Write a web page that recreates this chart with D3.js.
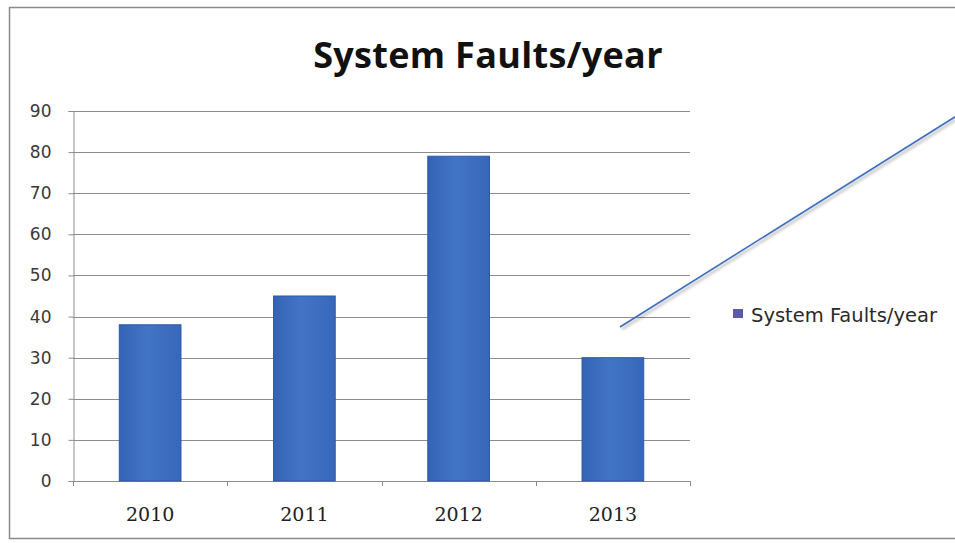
<!DOCTYPE html>
<html>
<head>
<meta charset="utf-8">
<script src="https://cdn.jsdelivr.net/npm/d3@7"></script>
<style>
  html, body { margin: 0; padding: 0; background: #fff; }
  svg { display: block; }
</style>
</head>
<body>
<svg id="chart" width="955" height="543"></svg>
<script>
// Yearly system fault counts
const years = ["2010", "2011", "2012", "2013"];
const faults = [38, 45, 79, 30];
const yTicks = [0, 10, 20, 30, 40, 50, 60, 70, 80, 90];
const chartTitle = "System Faults/year";
const seriesName = "System Faults/year";

const svg = d3.select("#chart");
const plot = { left: 73, right: 690, top: 111, bottom: 481 };

const defs = svg.append("defs");
const grad = defs.append("linearGradient").attr("id", "barFill")
  .attr("x1", "0").attr("x2", "1").attr("y1", "0").attr("y2", "0");
grad.append("stop").attr("offset", "0%").attr("stop-color", "#3463b5");
grad.append("stop").attr("offset", "45%").attr("stop-color", "#4275c6");
grad.append("stop").attr("offset", "100%").attr("stop-color", "#3767b8");

const shadow = defs.append("filter").attr("id", "lineShadow")
  .attr("x", "-10%").attr("y", "-10%").attr("width", "130%").attr("height", "130%");
shadow.append("feDropShadow").attr("dx", 2).attr("dy", 2).attr("stdDeviation", 1.5)
  .attr("flood-color", "#000").attr("flood-opacity", 0.35);

// outer chart frame
svg.append("rect").attr("x", 9.5).attr("y", 7.5).attr("width", 960).attr("height", 531)
  .attr("fill", "#fff").attr("stroke", "#8a8a8a").attr("stroke-width", 1.5);

const x = d3.scaleBand().domain(years).range([plot.left, plot.right])
  .paddingInner(0.6).paddingOuter(0.3);
const y = d3.scaleLinear().domain([0, 90]).range([plot.bottom, plot.top]);

// horizontal gridlines
svg.append("g").selectAll("line").data(yTicks.filter(d => d > 0)).join("line")
  .attr("x1", plot.left).attr("x2", plot.right)
  .attr("y1", d => Math.round(y(d)) + 0.5).attr("y2", d => Math.round(y(d)) + 0.5)
  .attr("stroke", "#8c8c8c").attr("stroke-width", 1);

// y axis
const yAxis = svg.append("g").attr("transform", `translate(${plot.left + 0.5},0)`)
  .call(d3.axisLeft(y).tickValues(yTicks).tickSize(5).tickPadding(17));
yAxis.select(".domain").attr("stroke", "#8c8c8c");
yAxis.selectAll(".tick line").attr("stroke", "#8c8c8c");
yAxis.selectAll("text").attr("fill", "#3a3a3a")
  .style("font-family", "'DejaVu Sans', sans-serif").style("font-size", "17px");

// x axis
const xAxis = svg.append("g").attr("transform", `translate(0,${plot.bottom + 0.5})`)
  .call(d3.axisBottom(x).tickSize(0).tickPadding(26));
xAxis.select(".domain").attr("stroke", "#8c8c8c").attr("d", `M${plot.left},0H${plot.right}`);
xAxis.selectAll("text").attr("fill", "#222")
  .style("font-family", "'DejaVu Serif', serif").style("font-size", "19px");
// category boundary ticks
const step = x.step();
svg.append("g").selectAll("line").data(d3.range(years.length + 1)).join("line")
  .attr("x1", i => Math.round(plot.left + i * step) + 0.5)
  .attr("x2", i => Math.round(plot.left + i * step) + 0.5)
  .attr("y1", plot.bottom).attr("y2", plot.bottom + 5)
  .attr("stroke", "#8c8c8c");

// bars
svg.append("g").selectAll("rect").data(years).join("rect")
  .attr("x", d => x(d)).attr("width", x.bandwidth())
  .attr("y", (d, i) => y(faults[i]))
  .attr("height", (d, i) => plot.bottom - y(faults[i]))
  .attr("fill", "url(#barFill)").attr("stroke", "#2f5aa5").attr("stroke-width", 1);

// title
svg.append("text").attr("x", 488).attr("y", 68).attr("text-anchor", "middle")
  .style("font-family", "'Open Sans', Lato, sans-serif").style("font-weight", "bold")
  .style("font-size", "36px").style("letter-spacing", "0.3px")
  .attr("fill", "#111").text(chartTitle);

// legend
svg.append("rect").attr("x", 733).attr("y", 309).attr("width", 10).attr("height", 9)
  .attr("fill", "#5a5aa6");
svg.append("text").attr("x", 751).attr("y", 322)
  .style("font-family", "'DejaVu Sans', sans-serif").style("font-size", "19.5px")
  .attr("fill", "#2a2a2a").text(seriesName);

// annotation leader line
svg.append("line").attr("x1", 620).attr("y1", 327).attr("x2", 958).attr("y2", 115)
  .attr("stroke", "#3d6fbf").attr("stroke-width", 1.6).attr("filter", "url(#lineShadow)");
</script>
</body>
</html>
